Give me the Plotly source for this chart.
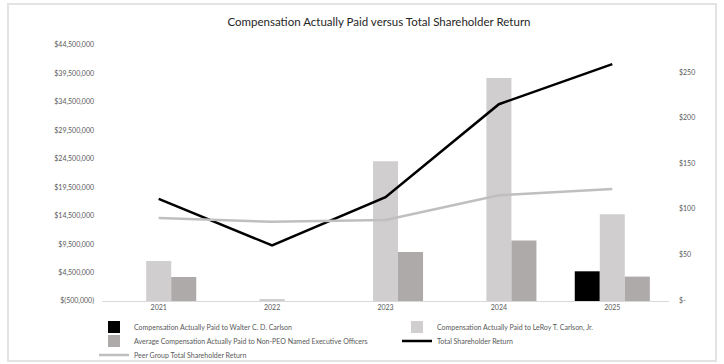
import plotly.graph_objects as go

# ---- data ----
years = ["2021", "2022", "2023", "2024", "2025"]
cap_walter = [None, None, None, None, 4720000]
cap_leroy = [6530000, -250000, 24050000, 38690000, 14740000]
cap_avg_neo = [3720000, -650000, 8110000, 10120000, 3790000]
tsr = [111, 60, 113, 215, 259]
peer_tsr = [90, 86, 88, 115, 122]

left_tickvals = [-500000 + 5000000 * i for i in range(10)]
left_ticktext = ["$(500,000)", "$4,500,000", "$9,500,000", "$14,500,000", "$19,500,000",
                 "$24,500,000", "$29,500,000", "$34,500,000", "$39,500,000", "$44,500,000"]
right_tickvals = [0, 50, 100, 150, 200, 250]
right_ticktext = ["$-", "$50", "$100", "$150", "$200", "$250"]

names = ["Compensation Actually Paid to Walter C. D. Carlson",
         "Compensation Actually Paid to LeRoy T. Carlson, Jr.",
         "Average Compensation Actually Paid to Non-PEO Named Executive Officers",
         "Total Shareholder Return",
         "Peer Group Total Shareholder Return"]

# ---- layout geometry ----
W, H = 724, 364
ML, MR, MT, MB = 102, 55, 45, 63
PW, PH = W - ML - MR, H - MT - MB

def px_x(px):
    return (px - ML) / PW

def px_y(py):
    return (H - MB - py) / PH

FONT = "Lato, 'Open Sans', sans-serif"
TXT = "#595959"
BASE = -500000

def rel(vals):
    return [None if v is None else v - BASE for v in vals]

fig = go.Figure()
fig.add_trace(go.Bar(x=years, y=rel(cap_walter), base=BASE, name=names[0],
                     marker=dict(color="#000000", line=dict(width=0)), legend="legend"))
fig.add_trace(go.Bar(x=years, y=rel(cap_leroy), base=BASE, name=names[1],
                     marker=dict(color="#d0cece", line=dict(width=0)), legend="legend2"))
fig.add_trace(go.Bar(x=years, y=rel(cap_avg_neo), base=BASE, name=names[2],
                     marker=dict(color="#aeaaaa", line=dict(width=0)), legend="legend3"))
fig.add_trace(go.Scatter(x=years, y=tsr, name=names[3], mode="lines", yaxis="y2",
                         line=dict(color="#000000", width=2.5), legend="legend4"))
fig.add_trace(go.Scatter(x=years, y=peer_tsr, name=names[4], mode="lines", yaxis="y2",
                         line=dict(color="#bfbfbf", width=2.5), legend="legend5"))
for tr in fig.data:
    tr.showlegend = True

leg_common = dict(orientation="h", font=dict(family=FONT, size=7, color=TXT),
                  bgcolor="rgba(0,0,0,0)", xref="container", yref="container",
                  xanchor="left", yanchor="middle", itemwidth=30)

def leg(px, py):
    return dict(leg_common, x=px / W, y=1 - py / H)

fig.update_layout(
    width=W, height=H,
    showlegend=True,
    margin=dict(l=ML, r=MR, t=MT, b=MB, autoexpand=False),
    paper_bgcolor="white", plot_bgcolor="white",
    barmode="group", bargap=0.338, bargroupgap=0,
    title=dict(text="Compensation Actually Paid versus Total Shareholder Return",
               x=379 / W, xanchor="center", xref="container",
               y=1 - 21.5 / H, yanchor="middle", yref="container",
               font=dict(family=FONT, size=11.5, color="#262626")),
    xaxis=dict(type="category", showgrid=False, zeroline=False, showline=True,
               linecolor="#d9d9d9", linewidth=1, ticks="",
               tickfont=dict(family=FONT, size=7, color=TXT)),
    yaxis=dict(range=[-500000, 44500000], tickvals=left_tickvals, ticktext=left_ticktext,
               showgrid=False, zeroline=False, showline=False, ticks="",
               ticklabelstandoff=7,
               tickfont=dict(family=FONT, size=7, color=TXT)),
    yaxis2=dict(range=[-1, 280], tickvals=right_tickvals, ticktext=right_ticktext,
                overlaying="y", side="right", anchor="x",
                showgrid=False, zeroline=False, showline=False, ticks="",
                ticklabelstandoff=9,
                tickfont=dict(family=FONT, size=7, color=TXT)),
    legend=leg(94, 327),
    legend2=leg(397, 327),
    legend3=leg(94, 341),
    legend4=leg(397, 341),
    legend5=leg(94, 355),
    shapes=[dict(type="rect", xref="paper", yref="paper",
                 x0=px_x(8), x1=px_x(716), y0=px_y(361), y1=px_y(4),
                 line=dict(color="#e3e3e3", width=2), layer="below")],
)

fig.write_html("out.html",
               config={"displayModeBar": False},
               post_script="document.body.style.margin='0';document.body.style.overflow='hidden';")
